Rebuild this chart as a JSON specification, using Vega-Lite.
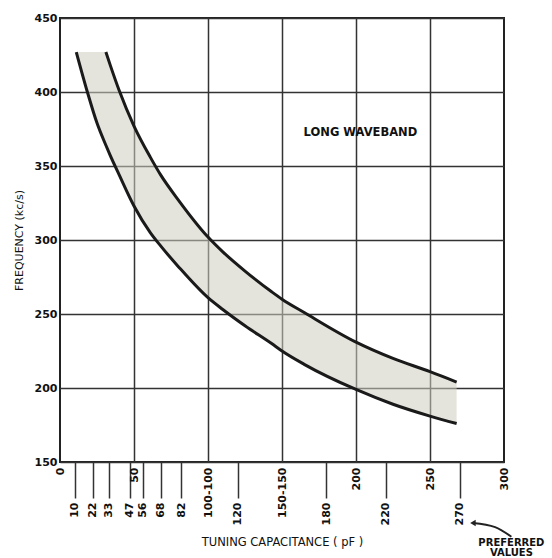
{
  "$schema": "https://vega.github.io/schema/vega-lite/v6.json",
  "width": 444,
  "height": 444,
  "autosize": {"type": "none"},
  "padding": {"left": 60, "top": 18, "right": 48, "bottom": 96},
  "background": "white",
  "config": {
    "view": {"stroke": "#222", "strokeWidth": 2},
    "font": "DejaVu Sans",
    "axis": {"labelColor": "#111", "titleColor": "#111", "gridColor": "#333", "gridWidth": 1.5, "domain": false, "tickColor": "#333", "tickWidth": 1.5, "labelFont": "DejaVu Sans", "labelFontWeight": "bold", "titleFont": "DejaVu Sans", "titleFontWeight": "normal"}
  },
  "datasets": {
    "band": [
      {"C": 11, "lo": 427, "hi": 427},
      {"C": 18.5, "lo": 400, "hi": 427},
      {"C": 25, "lo": 379, "hi": 427},
      {"C": 31, "lo": 364, "hi": 427},
      {"C": 34, "lo": 357, "hi": 418},
      {"C": 40, "lo": 344, "hi": 401},
      {"C": 50, "lo": 323, "hi": 377},
      {"C": 61, "lo": 305, "hi": 356},
      {"C": 68, "lo": 296, "hi": 344},
      {"C": 80, "lo": 282, "hi": 327},
      {"C": 100, "lo": 261, "hi": 302},
      {"C": 110, "lo": 253, "hi": 292},
      {"C": 125, "lo": 242, "hi": 279},
      {"C": 143, "lo": 230, "hi": 265},
      {"C": 150, "lo": 225, "hi": 260},
      {"C": 165, "lo": 216, "hi": 251},
      {"C": 200, "lo": 199, "hi": 231},
      {"C": 225, "lo": 189, "hi": 220},
      {"C": 250, "lo": 181, "hi": 211},
      {"C": 268, "lo": 176, "hi": 204}
    ],
    "arrow": [
      {"x": 279, "y": 108.8},
      {"x": 294, "y": 106},
      {"x": 305, "y": 99.5}
    ]
  },
  "layer": [
    {
      "data": {"name": "band"},
      "mark": {"type": "area", "color": "#cfcdbf", "opacity": 0.55, "interpolate": "monotone"},
      "encoding": {
        "x": {
          "field": "C", "type": "quantitative",
          "scale": {"domain": [0, 300], "nice": false},
          "title": "TUNING CAPACITANCE ( pF )",
          "axis": {
            "values": [0, 10, 22, 33, 47, 50, 56, 68, 82, 100, 120, 150, 180, 200, 220, 250, 270, 300],
            "tickCount": 40,
            "labelExpr": "datum.value == 100 ? '100-100' : datum.value == 150 ? '150-150' : datum.label",
            "labelAngle": -90,
            "labelFontSize": 11,
            "labelOverlap": false,
            "labelFlush": false,
            "labelBound": false,
            "ticks": true,
            "tickSize": {"condition": {"test": "indexof([10,22,33,47,56,68,82,120,180,220,270], datum.value) >= 0", "value": 36}, "value": 0},
            "labelPadding": {"condition": {"test": "indexof([10,22,33,47,56,68,82,120,180,220,270], datum.value) >= 0", "value": 4}, "value": 5},
            "grid": true,
            "gridOpacity": {"condition": {"test": "datum.value % 50 == 0 && datum.value > 0 && datum.value < 300", "value": 1}, "value": 0},
            "titleFontSize": 11.5,
            "titlePadding": 12
          }
        },
        "y": {
          "field": "lo", "type": "quantitative",
          "scale": {"domain": [150, 450], "nice": false, "zero": false},
          "title": "FREQUENCY (kc/s)",
          "axis": {
            "values": [150, 200, 250, 300, 350, 400, 450],
            "tickCount": 20,
            "tickSize": 0,
            "labelPadding": 3,
            "labelFontSize": 11,
            "grid": true,
            "titleFontSize": 11,
            "titlePadding": 10
          }
        },
        "y2": {"field": "hi"}
      }
    },
    {
      "data": {"name": "band"},
      "mark": {"type": "line", "color": "#1a1a1a", "strokeWidth": 3, "interpolate": "monotone", "strokeJoin": "round"},
      "encoding": {
        "x": {"field": "C", "type": "quantitative"},
        "y": {"field": "lo", "type": "quantitative"}
      }
    },
    {
      "data": {"name": "band"},
      "transform": [{"filter": "datum.C >= 31"}],
      "mark": {"type": "line", "color": "#1a1a1a", "strokeWidth": 3, "interpolate": "monotone", "strokeJoin": "round"},
      "encoding": {
        "x": {"field": "C", "type": "quantitative"},
        "y": {"field": "hi", "type": "quantitative"}
      }
    },
    {
      "data": {"values": [{"label": "LONG WAVEBAND"}]},
      "mark": {"type": "text", "fontSize": 11.5, "fontWeight": "bold", "color": "#111", "align": "center", "baseline": "middle"},
      "encoding": {
        "text": {"field": "label"},
        "x": {"datum": 203},
        "y": {"datum": 372}
      }
    },
    {
      "data": {"values": [{"label": "PREFERRED"}]},
      "mark": {"type": "text", "fontSize": 10, "fontWeight": "bold", "color": "#111", "align": "center", "baseline": "top", "lineBreak": "|", "lineHeight": 9.5},
      "encoding": {
        "text": {"value": "PREFERRED|VALUES"},
        "x": {"datum": 305},
        "y": {"datum": 98.5}
      }
    },
    {
      "data": {"name": "arrow"},
      "mark": {"type": "line", "color": "#222", "strokeWidth": 2, "interpolate": "monotone"},
      "encoding": {
        "x": {"field": "x", "type": "quantitative"},
        "y": {"field": "y", "type": "quantitative"}
      }
    },
    {
      "data": {"values": [{"x": 279, "y": 108.8}]},
      "mark": {"type": "point", "shape": "triangle-left", "filled": true, "color": "#222", "size": 40, "opacity": 1},
      "encoding": {
        "x": {"field": "x", "type": "quantitative"},
        "y": {"field": "y", "type": "quantitative"}
      }
    }
  ]
}
